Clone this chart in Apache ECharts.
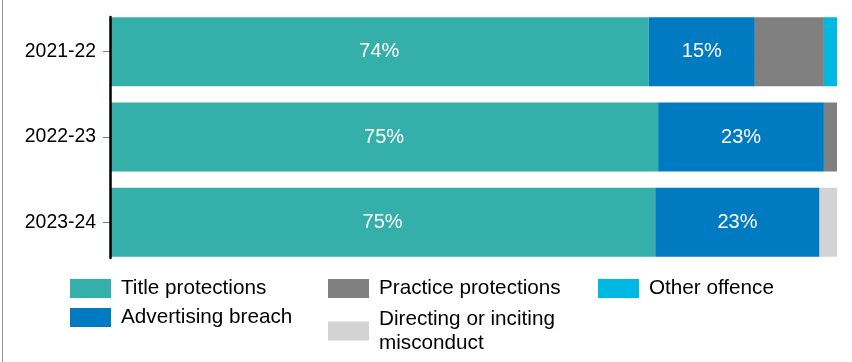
<!DOCTYPE html>
<html>
<head>
<meta charset="utf-8">
<script src="https://cdn.jsdelivr.net/npm/echarts@6/dist/echarts.min.js"></script>
<style>
  body { margin: 0; background: #fff; }
  #chart { width: 852px; height: 362px; position: relative; }
  .edge { position: absolute; left: 2px; top: 0; width: 1px; height: 362px; background: #9a9a9a; }
</style>
</head>
<body>
<div class="edge"></div>
<div id="chart"></div>
<script>
// 年份
const years = ['2021-22', '2022-23', '2023-24']
// 各类占比 (%)
const titleProtections = [74.1, 75.4, 75.0]
const advertisingBreach = [14.6, 22.8, 22.6]
const practiceProtections = [9.5, 1.8, 0]
const otherOffence = [1.8, 0, 0]
const directingMisconduct = [0, 0, 2.4]

const font = 'Liberation Sans, Arial, sans-serif'
const chart = echarts.init(document.getElementById('chart'))

const pctLabel = {
  show: true,
  position: 'inside',
  color: '#fff',
  fontSize: 20,
  fontFamily: font,
  formatter: p => Math.round(p.value) + '%'
}

const makeLegend = (name, left, top, extra) => Object.assign({
  data: [name],
  left: left,
  top: top,
  padding: 0,
  icon: 'rect',
  itemWidth: 41,
  itemHeight: 19,
  selectedMode: false,
  textStyle: {
    fontSize: 20.7,
    lineHeight: 24,
    color: '#000',
    fontFamily: font,
    padding: [0, 0, 0, 5]
  }
}, extra || {})

const option = {
  animation: false,
  grid: [
    { left: 110, right: 15, top: 9, height: 256 },
    // 只用来画左侧黑色轴线
    { left: 110, right: 15, top: 17, height: 241 }
  ],
  xAxis: [
    { type: 'value', min: 0, max: 100, show: false, gridIndex: 0 },
    { type: 'value', min: 0, max: 100, show: false, gridIndex: 1 }
  ],
  yAxis: [
    {
      type: 'category',
      data: years,
      inverse: true,
      gridIndex: 0,
      axisLine: { show: false },
      axisTick: { show: true, length: 7, alignWithLabel: true, lineStyle: { color: '#808080' } },
      axisLabel: { color: '#000', fontSize: 19.4, fontFamily: font, margin: 14 }
    },
    {
      type: 'category',
      data: years,
      gridIndex: 1,
      z: 5,
      axisLine: { show: true, lineStyle: { color: '#000', width: 2.5 } },
      axisTick: { show: false },
      axisLabel: { show: false }
    }
  ],
  legend: [
    makeLegend('Title protections', 70, 276.5),
    makeLegend('Advertising breach', 70, 305.5),
    makeLegend('Practice protections', 328, 276.5),
    makeLegend('Directing or inciting misconduct', 328, 307, { formatter: () => 'Directing or inciting\nmisconduct' }),
    makeLegend('Other offence', 598, 276.5)
  ],
  series: [
    { name: 'Title protections', type: 'bar', stack: 'all', barWidth: 69, data: titleProtections, itemStyle: { color: '#35afa9' }, label: pctLabel },
    { name: 'Advertising breach', type: 'bar', stack: 'all', data: advertisingBreach, itemStyle: { color: '#007bc2' }, label: pctLabel },
    { name: 'Practice protections', type: 'bar', stack: 'all', data: practiceProtections, itemStyle: { color: '#808080' } },
    { name: 'Other offence', type: 'bar', stack: 'all', data: otherOffence, itemStyle: { color: '#00b9e3' } },
    { name: 'Directing or inciting misconduct', type: 'bar', stack: 'all', data: directingMisconduct, itemStyle: { color: '#d3d3d3' } }
  ]
}

chart.setOption(option)
</script>
</body>
</html>
